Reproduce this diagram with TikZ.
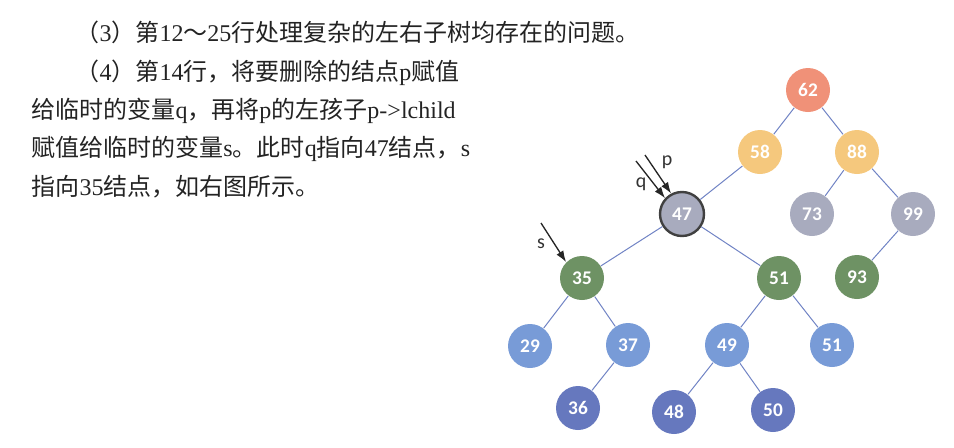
\documentclass[tikz,border=0pt]{standalone}
\usepackage{fontspec}
\setmainfont{Liberation Serif}
\newfontfamily\cjk{Noto Sans CJK SC}
\newfontfamily\lat{Liberation Serif}
\newfontfamily\lbl{Carlito}
\usetikzlibrary{arrows.meta}

\definecolor{txtgray}{RGB}{35,35,35}
\definecolor{edgeblue}{RGB}{112,131,196}
\definecolor{rootred}{RGB}{240,145,120}
\definecolor{lvlorange}{RGB}{245,200,125}
\definecolor{lvlgray}{RGB}{168,171,190}
\definecolor{lvlgreen}{RGB}{110,146,100}
\definecolor{lvlblue}{RGB}{120,155,215}
\definecolor{lvldeep}{RGB}{102,120,190}

\newcommand\en[1]{{\lat #1}}

\tikzset{every picture/.style={line width=0.75pt}}
\tikzset{
  key/.style={circle, minimum size=33pt, inner sep=0pt, text=white,
    font=\lbl\bfseries\fontsize{14.5}{14.5}\selectfont},
  line/.style={anchor=west, inner sep=0pt, text=txtgray,
    font=\cjk\fontsize{18}{20}\selectfont},
  ptr/.style={-{Latex[length=8.5pt,width=6pt]}, line width=1pt, color=black!85},
  ptrlbl/.style={text=black!80, font=\lbl\fontsize{15}{15}\selectfont},
  link/.style={draw=edgeblue, line width=0.75pt}
}

\begin{document}
\begin{tikzpicture}[x=0.75pt,y=0.75pt,yscale=-1,xscale=1]
\useasboundingbox (0,0) rectangle (954,447);

% Text Node
\node[line] (l1) at (75,32) {（\en{3}）第\en{12}～\en{25}行处理复杂的左右子树均存在的问题。};
% Text Node
\node[line] (l2) at (75,73) {（\en{4}）第\en{14}行，将要删除的结点\en{p}赋值};
% Text Node
\node[line] (l3) at (31,111) {给临时的变量\en{q}，再将\en{p}的左孩子\en{p->lchild}};
% Text Node
\node[line] (l4) at (31,149) {赋值给临时的变量\en{s}。此时\en{q}指向\en{47}结点，\en{s}};
% Text Node
\node[line] (l5) at (31,187) {指向\en{35}结点，如右图所示。};

%Shape: Circle
\node[key, fill=rootred] (n62) at (808,90) {62};
\node[key, fill=lvlorange] (n58) at (760,152) {58};
\node[key, fill=lvlorange] (n88) at (857,152) {88};
\node[key, fill=lvlgray, draw=black!75, line width=1.8pt] (n47) at (682,214) {47};
\node[key, fill=lvlgray] (n73) at (812,214) {73};
\node[key, fill=lvlgray] (n99) at (913,214) {99};
\node[key, fill=lvlgreen] (n35) at (582,278) {35};
\node[key, fill=lvlgreen] (n51) at (779,278) {51};
\node[key, fill=lvlgreen] (n93) at (857,277) {93};
\node[key, fill=lvlblue] (n29) at (530,346) {29};
\node[key, fill=lvlblue] (n37) at (628,345) {37};
\node[key, fill=lvlblue] (n49) at (727,345) {49};
\node[key, fill=lvlblue] (n51b) at (832,345) {51};
\node[key, fill=lvldeep] (n36) at (578,408) {36};
\node[key, fill=lvldeep] (n48) at (674,412) {48};
\node[key, fill=lvldeep] (n50) at (773,410) {50};

%Straight Lines
\path[link] (n62) -- (n58);
\path[link] (n62) -- (n88);
\path[link] (n58) -- (n47);
\path[link] (n88) -- (n73);
\path[link] (n88) -- (n99);
\path[link] (n47) -- (n35);
\path[link] (n47) -- (n51);
\path[link] (n99) -- (n93);
\path[link] (n35) -- (n29);
\path[link] (n35) -- (n37);
\path[link] (n37) -- (n36);
\path[link] (n51) -- (n49);
\path[link] (n51) -- (n51b);
\path[link] (n49) -- (n48);
\path[link] (n49) -- (n50);

%Pointers
\coordinate (pstart) at (645,155);
\coordinate (qstart) at (636,161);
\coordinate (sstart) at (541,223);
\draw[ptr] (pstart) -- (n47.118);
\draw[ptr] (qstart) -- (n47.137);
\draw[ptr] (sstart) -- (n35.135);

% Text Node
\node[ptrlbl] (plbl) at (667,162) {p};
% Text Node
\node[ptrlbl] (qlbl) at (641,184) {q};
% Text Node
\node[ptrlbl] (slbl) at (541,244) {s};

\end{tikzpicture}
\end{document}
